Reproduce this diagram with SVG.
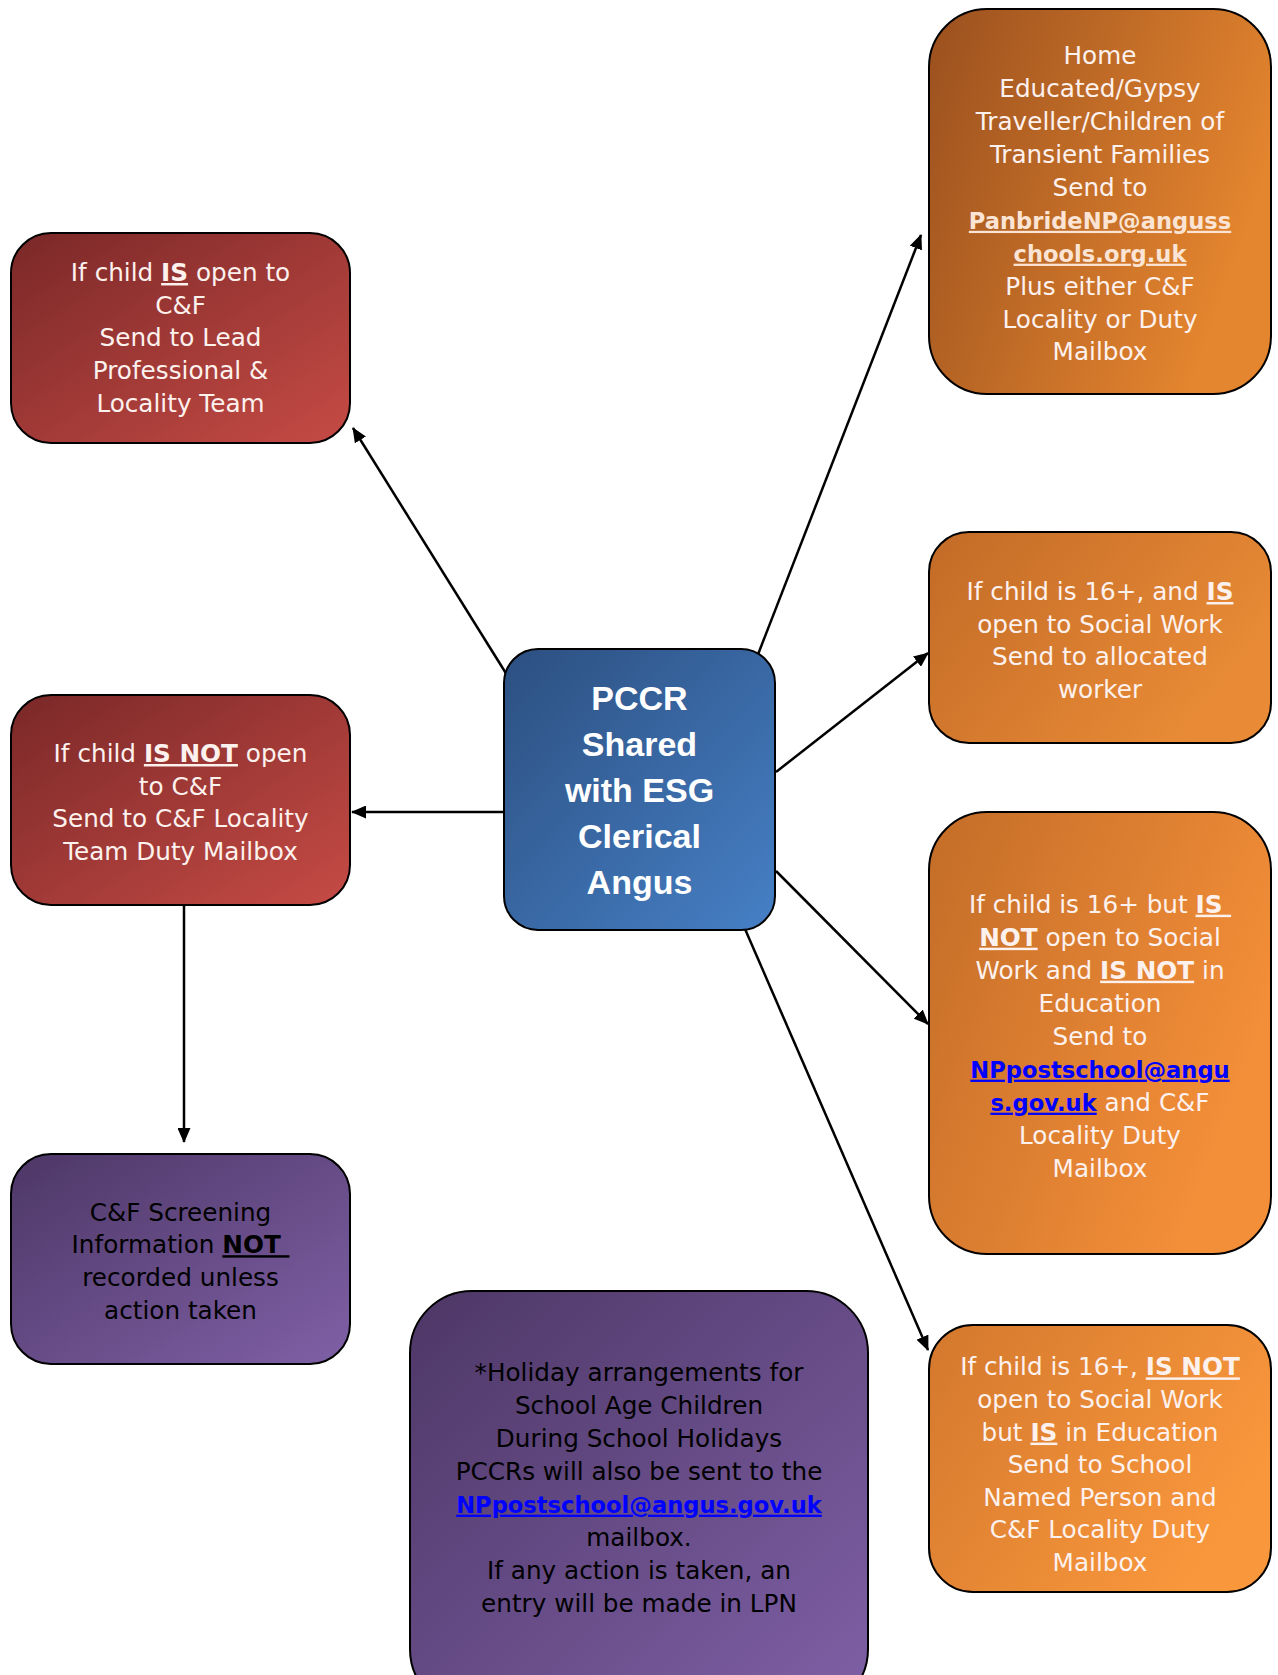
<svg xmlns="http://www.w3.org/2000/svg" width="1278" height="1675" viewBox="0 0 1278 1675">
<defs>
<linearGradient id="gRed" x1="0" y1="0" x2="1" y2="1"><stop offset="0" stop-color="#7a2828"/><stop offset="1" stop-color="#c64b45"/></linearGradient>
<linearGradient id="gPur" x1="0" y1="0" x2="1" y2="1"><stop offset="0" stop-color="#4d3766"/><stop offset="1" stop-color="#7f60a6"/></linearGradient>
<linearGradient id="gBlue" x1="0" y1="0" x2="1" y2="1"><stop offset="0" stop-color="#2c4f80"/><stop offset="1" stop-color="#4680c6"/></linearGradient>
<linearGradient id="gOr1" x1="0" y1="0" x2="1" y2="0.4"><stop offset="0" stop-color="#9a501e"/><stop offset="1" stop-color="#e4852f"/></linearGradient>
<linearGradient id="gOr2" x1="0" y1="0" x2="1" y2="0.5"><stop offset="0" stop-color="#c26b27"/><stop offset="1" stop-color="#e98b36"/></linearGradient>
<linearGradient id="gOr3" x1="0" y1="0" x2="1" y2="0.5"><stop offset="0" stop-color="#c36d28"/><stop offset="1" stop-color="#f48f39"/></linearGradient>
<linearGradient id="gOr4" x1="0" y1="0" x2="1" y2="0.5"><stop offset="0" stop-color="#d3782d"/><stop offset="1" stop-color="#f9973c"/></linearGradient>
<marker id="arr" markerUnits="userSpaceOnUse" markerWidth="15" markerHeight="13" refX="14" refY="6.5" orient="auto"><path d="M0,0 L15,6.5 L0,13 z" fill="#000"/></marker>
</defs>
<style>
.box{stroke:#000;stroke-width:2}
text{font-family:"DejaVu Sans","Liberation Sans",sans-serif;font-size:24.7px;text-anchor:middle}
.w{fill:#fdf1ee}
.k{fill:#000}
.b{font-weight:bold;text-decoration:underline}
.lk{font-weight:bold;text-decoration:underline;fill:#0000ff;font-size:22.6px}
.lp{font-weight:bold;text-decoration:underline;fill:#fbe4d3;font-size:22.6px}
.ctr{font-weight:bold;font-size:34px;fill:#fff;font-family:"Liberation Sans","DejaVu Sans",sans-serif}
.con{stroke:#000;stroke-width:2.5;fill:none;marker-end:url(#arr)}
</style>
<rect width="1278" height="1675" fill="#fff"/>
<g id="connectors">
<line class="con" x1="507" y1="675" x2="353" y2="428"/>
<line class="con" x1="504" y1="812" x2="352" y2="812"/>
<line class="con" x1="184" y1="906" x2="184" y2="1142"/>
<line class="con" x1="757" y1="657" x2="921" y2="235"/>
<line class="con" x1="776" y1="772" x2="928" y2="653"/>
<line class="con" x1="776" y1="871" x2="928" y2="1024"/>
<line class="con" x1="745" y1="929" x2="928" y2="1350"/>
</g>
<g id="node-open-cf">
<rect class="box" x="11" y="233" width="339" height="210" rx="40" fill="url(#gRed)"/>
<text class="w" x="180.5" y="281">If child <tspan class="b">IS</tspan> open to<tspan x="180.5" dy="32.7">C&amp;F</tspan><tspan x="180.5" dy="32.7">Send to Lead</tspan><tspan x="180.5" dy="32.7">Professional &amp;</tspan><tspan x="180.5" dy="32.7">Locality Team</tspan></text>
</g>
<g id="node-not-open-cf">
<rect class="box" x="11" y="695" width="339" height="210" rx="40" fill="url(#gRed)"/>
<text class="w" x="180.5" y="762">If child <tspan class="b">IS NOT</tspan> open<tspan x="180.5" dy="32.5">to C&amp;F</tspan><tspan x="180.5" dy="32.5">Send to C&amp;F Locality</tspan><tspan x="180.5" dy="32.5">Team Duty Mailbox</tspan></text>
</g>
<g id="node-screening">
<rect class="box" x="11" y="1154" width="339" height="210" rx="40" fill="url(#gPur)"/>
<text class="k" x="180.5" y="1220.5">C&amp;F Screening<tspan x="180.5" dy="32.7">Information <tspan class="b">NOT </tspan></tspan><tspan x="180.5" dy="32.7">recorded unless</tspan><tspan x="180.5" dy="32.7">action taken</tspan></text>
</g>
<g id="node-pccr">
<rect class="box" x="504" y="649" width="271" height="281" rx="34" fill="url(#gBlue)"/>
<text class="ctr" x="639.5" y="710">PCCR<tspan x="639.5" dy="46">Shared</tspan><tspan x="639.5" dy="46">with ESG</tspan><tspan x="639.5" dy="46">Clerical</tspan><tspan x="639.5" dy="46">Angus</tspan></text>
</g>
<g id="node-home-educated">
<rect class="box" x="929" y="9" width="342" height="385" rx="58" fill="url(#gOr1)"/>
<text class="w" x="1100" y="64.3">Home<tspan x="1100" dy="32.9">Educated/Gypsy</tspan><tspan x="1100" dy="32.9">Traveller/Children of</tspan><tspan x="1100" dy="32.9">Transient Families</tspan><tspan x="1100" dy="32.9">Send to</tspan><tspan x="1100" dy="32.9" class="lp">PanbrideNP@anguss</tspan><tspan x="1100" dy="32.9" class="lp">chools.org.uk</tspan><tspan x="1100" dy="32.9">Plus either C&amp;F</tspan><tspan x="1100" dy="32.9">Locality or Duty</tspan><tspan x="1100" dy="32.9">Mailbox</tspan></text>
</g>
<g id="node-16-open-sw">
<rect class="box" x="929" y="532" width="342" height="211" rx="40" fill="url(#gOr2)"/>
<text class="w" x="1100" y="600">If child is 16+, and <tspan class="b">IS</tspan><tspan x="1100" dy="32.7">open to Social Work</tspan><tspan x="1100" dy="32.7">Send to allocated</tspan><tspan x="1100" dy="32.7">worker</tspan></text>
</g>
<g id="node-16-not-sw-not-edu">
<rect class="box" x="929" y="812" width="342" height="442" rx="58" fill="url(#gOr3)"/>
<text class="w" x="1100" y="912.7">If child is 16+ but <tspan class="b">IS </tspan><tspan x="1100" dy="33"><tspan class="b">NOT</tspan> open to Social</tspan><tspan x="1100" dy="33">Work and <tspan class="b">IS NOT</tspan> in</tspan><tspan x="1100" dy="33">Education</tspan><tspan x="1100" dy="33">Send to</tspan><tspan x="1100" dy="33" class="lk">NPpostschool@angu</tspan><tspan x="1100" dy="33"><tspan class="lk">s.gov.uk</tspan> and C&amp;F</tspan><tspan x="1100" dy="33">Locality Duty</tspan><tspan x="1100" dy="33">Mailbox</tspan></text>
</g>
<g id="node-16-not-sw-in-edu">
<rect class="box" x="929" y="1325" width="342" height="267" rx="44" fill="url(#gOr4)"/>
<text class="w" x="1100" y="1375.4">If child is 16+, <tspan class="b">IS NOT</tspan><tspan x="1100" dy="32.6">open to Social Work</tspan><tspan x="1100" dy="32.6">but <tspan class="b">IS</tspan> in Education</tspan><tspan x="1100" dy="32.6">Send to School</tspan><tspan x="1100" dy="32.6">Named Person and</tspan><tspan x="1100" dy="32.6">C&amp;F Locality Duty</tspan><tspan x="1100" dy="32.6">Mailbox</tspan></text>
</g>
<g id="node-holiday">
<rect class="box" x="410" y="1291" width="458" height="420" rx="62" fill="url(#gPur)"/>
<text class="k" x="639" y="1380.7">*Holiday arrangements for<tspan x="639" dy="33">School Age Children</tspan><tspan x="639" dy="33">During School Holidays</tspan><tspan x="639" dy="33">PCCRs will also be sent to the</tspan><tspan x="639" dy="33" class="lk">NPpostschool@angus.gov.uk</tspan><tspan x="639" dy="33">mailbox.</tspan><tspan x="639" dy="33">If any action is taken, an</tspan><tspan x="639" dy="33">entry will be made in LPN</tspan></text>
</g>
</svg>
